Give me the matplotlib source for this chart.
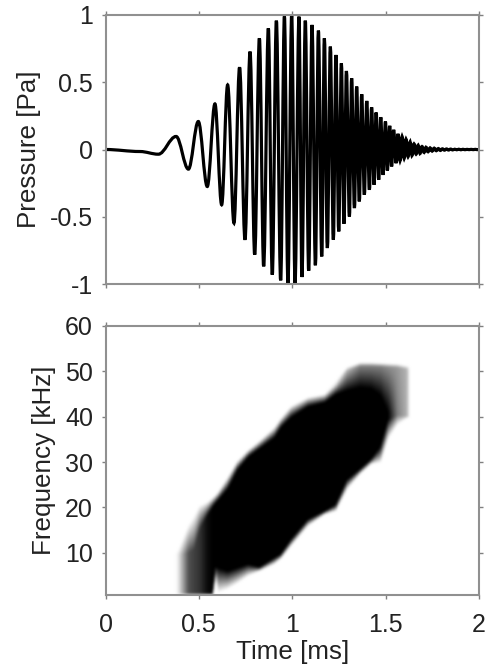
import numpy as np
import matplotlib
matplotlib.use("Agg")
import matplotlib.pyplot as plt
from matplotlib.path import Path
from matplotlib.patches import PathPatch

plt.rcParams['font.family'] = ['Liberation Sans', 'DejaVu Sans']

# waveform: turning points
wave_t = [0, 0.185, 0.283, 0.378, 0.444, 0.497, 0.545, 0.586, 0.622, 0.654, 0.688, 0.718,
          0.747, 0.774, 0.799, 0.824, 0.847, 0.872, 0.893, 0.915, 0.938, 0.958, 0.977, 0.997,
          1.015, 1.036, 1.052, 1.070, 1.088, 1.106, 1.124, 1.140, 1.158, 1.172, 1.188, 1.204,
          1.220, 1.234, 1.249, 1.263, 1.277, 1.290, 1.306, 1.318, 1.333, 1.345, 1.359, 1.372,
          1.386, 1.399, 1.413, 1.425, 1.438, 1.449, 1.463, 1.474, 1.486, 1.499, 1.509, 1.522,
          1.532, 1.543, 1.556, 1.566, 1.577, 1.588, 1.599, 1.609, 1.620, 1.631, 1.641, 1.652,
          1.663, 1.674, 1.684, 1.695, 1.706, 1.716, 1.727, 1.738, 1.749, 1.760, 1.771, 1.782,
          1.793, 1.804, 1.815, 1.826, 1.837, 1.848, 1.859, 1.870, 1.881, 1.892, 1.903, 1.914,
          1.925, 1.936, 1.947, 1.958, 1.969, 1.980, 1.991, 2.0]
wave_p = [0, -0.015, -0.035, 0.097, -0.146, 0.208, -0.275, 0.339, -0.411, 0.480, -0.547, 0.611,
          -0.671, 0.728, -0.782, 0.827, -0.869, 0.901, -0.931, 0.958, -0.973, 0.990, -0.998, 1.0,
          -0.993, 0.988, -0.948, 0.958, -0.901, 0.926, -0.861, 0.884, -0.795, 0.827, -0.733, 0.765,
          -0.671, 0.703, -0.609, 0.641, -0.552, 0.584, -0.498, 0.530, -0.436, 0.468, -0.386, 0.411,
          -0.337, 0.361, -0.300, 0.314, -0.262, 0.275, -0.225, 0.240, -0.188, 0.208, -0.156, 0.176,
          -0.126, 0.146, -0.101, 0.116, -0.084, 0.097, -0.067, 0.077, -0.054, 0.057, -0.045, 0.042,
          -0.035, 0.032, -0.030, 0.022, -0.022, 0.017, -0.017, 0.012, -0.012, 0.010, -0.009, 0.007,
          -0.007, 0.005, -0.005, 0.004, -0.004, 0.003, -0.003, 0.002, -0.002, 0.002, -0.002, 0.0015,
          -0.0015, 0.001, -0.001, 0.001, -0.001, 0.001, -0.001, 0]

# spectrogram outline per time column, in kHz, and darkness inside it
spec_t =    [0.37, 0.385, 0.41, 0.44, 0.47, 0.50, 0.54, 0.57, 0.585, 0.60, 0.65, 0.70, 0.76, 0.82, 0.90, 0.935,
             0.99, 1.08, 1.17, 1.23, 1.29, 1.36, 1.42, 1.47, 1.51, 1.56, 1.61, 1.625]
upper_out = [10, 10.5, 13, 16, 18, 20.3, 21, 22, 22.6, 23.3, 26.5, 30, 32.5, 34.5, 37.5, 39.5,
             42.2, 44.1, 44.8, 47, 50, 51, 51, 50.9, 50.8, 50.7, 50.3, 50.3]
upper_in =  [9.5, 9.5, 9.5, 9.8, 10.5, 15, 18, 20, 20.8, 21.5, 23.9, 28, 31, 32.8, 35.2, 37.5,
             39.7, 42.1, 43, 44.8, 45.6, 46.3, 46, 44.5, 40.8, 40.5, 40.5, 40.5]
lower_in =  [0.6, 0.6, 0.6, 0.6, 0.6, 0.6, 0.6, 0.6, 6.8, 6.5, 5.8, 6.5, 7.3, 6.6, 8.7, 9.5,
             12.8, 17.2, 19, 20.5, 26, 28.3, 30.5, 33.4, 39.3, 40.2, 40, 40]
lower_out = [0.6, 0.6, 0.6, 0.6, 0.6, 0.6, 0.6, 0.6, 4, 1.0, 1.8, 3, 4.7, 5.8, 7.3, 8.5,
             11.3, 15.7, 18.3, 19, 23.8, 27.2, 29.4, 29.7, 34.9, 38, 39.5, 39.5]
inner_dark = [0, 0.08, 0.35, 0.68, 0.75, 0.8, 0.95, 1, 1, 1, 1, 1, 1, 1, 1, 1,
              1, 1, 1, 1, 1, 1, 1, 1, 1, 0.5, 0.3, 0]
top_dark =  [0, 0, 0, 0, 0, 0, 0, 0, 0, 0, 0, 0, 0, 0, 0, 0,
             0, 0, 0, 0.1, 0.3, 0.5, 0.5, 0.5, 0.45, 0.4, 0.3, 0]

x_ticks = [0, 0.5, 1, 1.5, 2]
x_labels = ['0', '0.5', '1', '1.5', '2']
p_ticks = [-1, -0.5, 0, 0.5, 1]
p_labels = ['-1', '-0.5', '0', '0.5', '1']
f_ticks = [10, 20, 30, 40, 50, 60]
f_labels = ['10', '20', '30', '40', '50', '60']
f_min = 0.6

W, H = 489, 671
fig = plt.figure(figsize=(W / 100, H / 100), dpi=100)
ax1 = fig.add_axes([105.5 / W, (H - 284) / H, 373.5 / W, 269 / H])
ax2 = fig.add_axes([105.5 / W, (H - 595.3) / H, 373.5 / W, 269.3 / H])

# smooth curve through the turning points, flat at each one
verts = [(wave_t[0], wave_p[0])]
codes = [Path.MOVETO]
for i in range(1, len(wave_t)):
    t0, p0 = wave_t[i - 1], wave_p[i - 1]
    t1, p1 = wave_t[i], wave_p[i]
    dt = t1 - t0
    verts += [(t0 + 0.36 * dt, p0), (t1 - 0.36 * dt, p1), (t1, p1)]
    codes += [Path.CURVE4] * 3
ax1.add_patch(PathPatch(Path(verts, codes), fill=False, edgecolor='black', lw=2.3, capstyle='round'))
ax1.set_xlim(0, 2)
ax1.set_ylim(-1, 1)

# spectrogram raster: shade between the outlines, column by column, then soften
img_t = np.linspace(0, 2, 500)
img_f = np.linspace(f_min, 60, 360)
rows_f = [np.full(len(img_t), f_min)]
for edge in (lower_out, lower_in, upper_in, upper_out):
    rows_f.append(np.interp(img_t, spec_t, edge))
rows_f.append(rows_f[-1] + 0.8)
rows_c = [np.zeros(len(img_t)), np.zeros(len(img_t)),
          np.interp(img_t, spec_t, inner_dark), np.interp(img_t, spec_t, inner_dark),
          np.interp(img_t, spec_t, top_dark), np.zeros(len(img_t))]
rows_f = np.array(rows_f)
rows_c = np.array(rows_c)
img = np.zeros((len(img_f), len(img_t)))
for j in range(len(img_t)):
    # tiny offsets keep the node heights increasing where outlines coincide
    img[:, j] = np.interp(img_f, rows_f[:, j] + np.arange(6) * 1e-6, rows_c[:, j], right=0)
kernel = np.array([1, 2, 3, 2, 1]) / 9
for _ in range(2):
    img = np.apply_along_axis(lambda a: np.convolve(a, kernel, mode='same'), 0, img)
    img = np.apply_along_axis(lambda a: np.convolve(a, kernel, mode='same'), 1, img)
ax2.imshow(img, origin='lower', extent=[0, 2, f_min, 60], aspect='auto',
           cmap='gray_r', vmin=0, vmax=1, interpolation='bilinear')
ax2.set_xlim(0, 2)
ax2.set_ylim(f_min, 60)

for ax in (ax1, ax2):
    ax.set_xticks(x_ticks)
    ax.tick_params(direction='out', length=3, width=1, color='#808080', top=True, right=True,
                   labelsize=18, labelcolor='#222222')
    ax.tick_params(axis='x', pad=9.5)
    ax.tick_params(axis='y', pad=6)
    for s in ax.spines.values():
        s.set_color('#909090')
        s.set_linewidth(1.5)

ax1.set_xticklabels([])
ax1.set_yticks(p_ticks)
ax1.set_yticklabels(p_labels)
ax1.set_ylabel('Pressure [Pa]', fontsize=18.7, color='#222222', va='center')
ax1.yaxis.set_label_coords(-0.205, 0.5)

ax2.set_xticklabels(x_labels)
ax2.set_yticks(f_ticks)
ax2.set_yticklabels(f_labels)
ax2.set_ylabel('Frequency [kHz]', fontsize=18.7, color='#222222', va='center')
ax2.yaxis.set_label_coords(-0.165, 0.5)
ax2.set_xlabel('Time [ms]', fontsize=18.7, color='#222222', va='center')
ax2.xaxis.set_label_coords(0.5, -0.21)

fig.savefig('out.png', dpi=100)
